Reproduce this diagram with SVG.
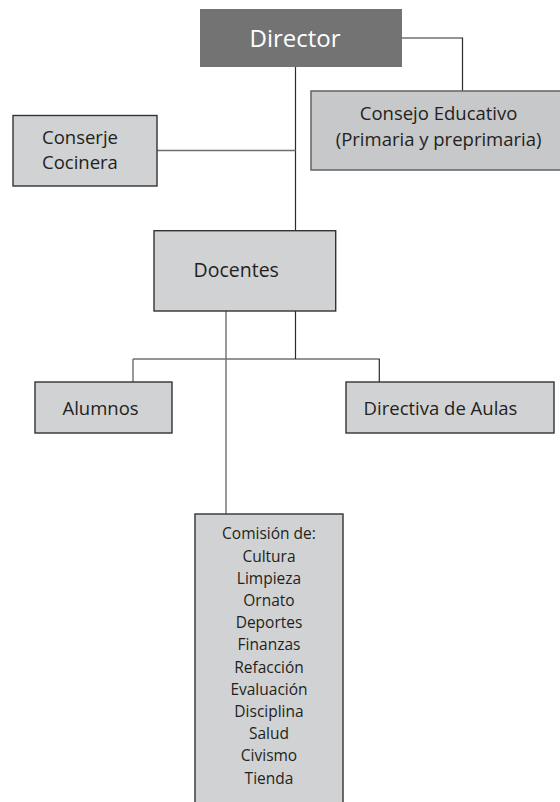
<svg xmlns="http://www.w3.org/2000/svg" width="560" height="802" viewBox="0 0 560 802">
  <style>
    .box { fill: #d1d2d4; stroke: #333333; stroke-width: 1.4; }
    .t { font-family: "Open Sans", "Liberation Sans", sans-serif; fill: #231f20; font-size: 18.5px; }
    .c { text-anchor: middle; }
    .ln { fill: none; stroke: #2a2a2a; stroke-width: 1.2; }
    .lg { fill: none; stroke: #6e6e6e; stroke-width: 1.4; }
  </style>
  <rect width="560" height="802" fill="#ffffff"/>
  <g id="connectors">
    <path class="ln" d="M402 38 H462.5 V91"/>
    <path class="ln" d="M295.5 67 V230.7"/>
    <path class="lg" d="M157 150.5 H295.5"/>
    <path class="ln" d="M295.5 311 V359"/>
    <path class="ln" d="M133 359 H379.3 V382"/>
    <path class="lg" d="M133 359 V382"/>
    <path class="lg" d="M226 311 V514"/>
  </g>
  <g id="director">
    <rect x="200" y="9" width="202" height="58" fill="#737373"/>
    <text class="t c" x="295" y="47" style="font-size:24px;fill:#ffffff">Director</text>
  </g>
  <g id="consejo">
    <rect x="311" y="91" width="260" height="79" fill="#c7c8ca" stroke="#6a6a6a" stroke-width="1.6"/>
    <text class="t c" x="438.6" y="120">Consejo Educativo</text>
    <text class="t c" x="438.6" y="146">(Primaria y preprimaria)</text>
  </g>
  <g id="conserje">
    <rect class="box" x="13" y="115.5" width="144" height="70.5"/>
    <text class="t" x="42" y="143.5">Conserje</text>
    <text class="t" x="42" y="168.5">Cocinera</text>
  </g>
  <g id="docentes">
    <rect class="box" x="154" y="230.7" width="181.7" height="80.3"/>
    <text class="t" x="193.6" y="277" style="font-size:19.5px">Docentes</text>
  </g>
  <g id="alumnos">
    <rect class="box" x="35" y="382" width="137" height="51"/>
    <text class="t" x="62.5" y="415">Alumnos</text>
  </g>
  <g id="directiva">
    <rect class="box" x="346" y="382" width="208" height="51"/>
    <text class="t" x="363.6" y="415">Directiva de Aulas</text>
  </g>
  <g id="comision">
    <rect class="box" x="195" y="514" width="148" height="300"/>
    <g class="t c" style="font-size:15.5px">
      <text x="269" y="539.3">Comisión de:</text>
      <text x="269" y="561.5">Cultura</text>
      <text x="269" y="583.7">Limpieza</text>
      <text x="269" y="605.9">Ornato</text>
      <text x="269" y="628.1">Deportes</text>
      <text x="269" y="650.3">Finanzas</text>
      <text x="269" y="672.5">Refacción</text>
      <text x="269" y="694.7">Evaluación</text>
      <text x="269" y="716.9">Disciplina</text>
      <text x="269" y="739.1">Salud</text>
      <text x="269" y="761.3">Civismo</text>
      <text x="269" y="783.5">Tienda</text>
    </g>
  </g>
</svg>
